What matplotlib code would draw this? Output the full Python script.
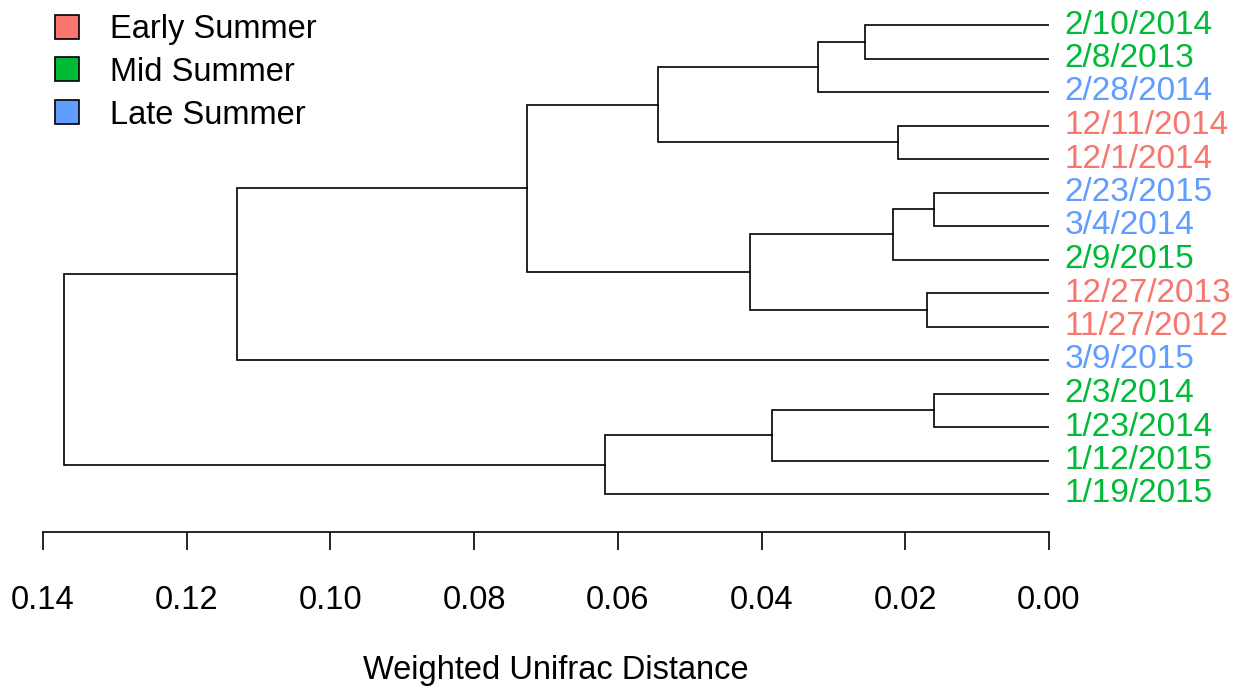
import matplotlib
matplotlib.use("Agg")
import matplotlib.pyplot as plt
from matplotlib.patches import Patch

plt.rcParams['font.family'] = ['Liberation Sans', 'DejaVu Sans']

# leaves, top to bottom
leaves = ["2/10/2014", "2/8/2013", "2/28/2014", "12/11/2014", "12/1/2014",
          "2/23/2015", "3/4/2014", "2/9/2015", "12/27/2013", "11/27/2012",
          "3/9/2015", "2/3/2014", "1/23/2014", "1/12/2015", "1/19/2015"]
groups = ["Mid", "Mid", "Late", "Early", "Early",
          "Late", "Late", "Mid", "Early", "Early",
          "Late", "Mid", "Mid", "Mid", "Mid"]

# merges: (child a, child b, height); ids >= 15 refer to earlier merges
merges = [(0, 1, 0.0256), (15, 2, 0.0321), (3, 4, 0.0210), (16, 17, 0.0544),
          (5, 6, 0.0160), (19, 7, 0.0217), (8, 9, 0.0170), (20, 21, 0.0416),
          (18, 22, 0.0726), (23, 10, 0.1130), (11, 12, 0.0160), (25, 13, 0.0385),
          (26, 14, 0.0618), (24, 27, 0.1371)]

group_names = ["Early Summer", "Mid Summer", "Late Summer"]
group_colors = {"Early": "#F8766D", "Mid": "#00BA38", "Late": "#619CFF"}

ticks = [0.14, 0.12, 0.10, 0.08, 0.06, 0.04, 0.02, 0.00]

W, H = 1240, 688
fig = plt.figure(figsize=(W / 100, H / 100), dpi=100)
x0, x1 = 43, 1049
ax = fig.add_axes([x0 / W, 0, (x1 - x0) / W, 1])
ax.set_xlim(0.14, 0.0)
top_px, step = 25, 33.5
ax.set_ylim((H - top_px) / step, -top_px / step)

# node positions
ypos = {i: float(i) for i in range(len(leaves))}
hpos = {i: 0.0 for i in range(len(leaves))}
n = len(leaves)
for k, (a, b, h) in enumerate(merges):
    nid = n + k
    ax.plot([hpos[a], h, h, hpos[b]], [ypos[a], ypos[a], ypos[b], ypos[b]],
            color="black", lw=1.2, solid_joinstyle="miter")
    ypos[nid] = (ypos[a] + ypos[b]) / 2
    hpos[nid] = h

for i, (lab, g) in enumerate(zip(leaves, groups)):
    ax.annotate(lab, xy=(0, i), xytext=(11, 0), textcoords="offset points",
                va="center", ha="left", fontsize=24, color=group_colors[g])

for s in ["top", "right", "left"]:
    ax.spines[s].set_visible(False)
ax.spines["bottom"].set_position(("data", (532 - top_px) / step))
ax.spines["bottom"].set_bounds(0.0, 0.14)
ax.spines["bottom"].set_linewidth(1.2)
ax.set_yticks([])
ax.set_xticks(ticks)
ax.set_xticklabels(["%.2f" % t for t in ticks], fontsize=23.5)
ax.tick_params(axis="x", direction="out", length=13, width=1.2, pad=25)

fig.text(556 / W, 1 - 670 / H, "Weighted Unifrac Distance", ha="center",
         va="center", fontsize=23.5)

handles = [Patch(facecolor=group_colors[k], edgecolor="black", lw=1.2)
           for k in ["Early", "Mid", "Late"]]
fig.legend(handles, group_names, loc="upper left",
           bbox_to_anchor=(55 / W, 1 - 14 / H), frameon=False, fontsize=23.5,
           handlelength=0.75, handleheight=0.75, handletextpad=0.95,
           labelspacing=0.36, borderpad=0, borderaxespad=0)

fig.savefig("out.png", dpi=100)
